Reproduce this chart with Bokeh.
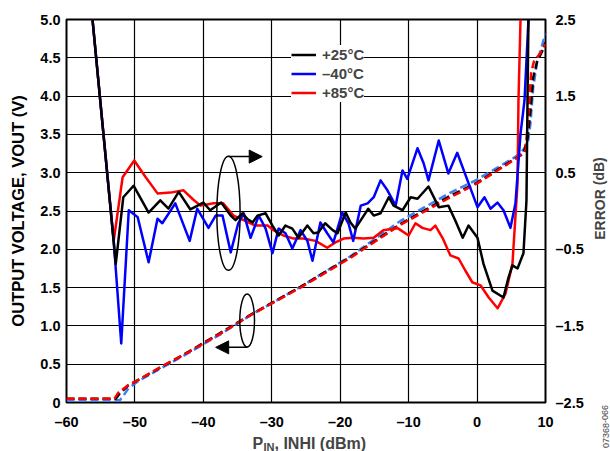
from bokeh.plotting import figure
from bokeh.layouts import row, column
from bokeh.models import (Range1d, LinearAxis, FixedTicker, Label, Arrow, NormalHead,
                          Legend, LegendItem)
from bokeh.embed import file_html
from bokeh.resources import INLINE

FONT = "Liberation Sans"

# ---------------- data ----------------
x_ticks = [-60, -50, -40, -30, -20, -10, 0, 10]
x_tick_labels = ["\u201360", "\u201350", "\u201340", "\u201330", "\u201320", "\u201310", "0", "10"]
v_ticks = [0, 0.5, 1.0, 1.5, 2.0, 2.5, 3.0, 3.5, 4.0, 4.5, 5.0]
v_tick_labels = ["0", "0.5", "1.0", "1.5", "2.0", "2.5", "3.0", "3.5", "4.0", "4.5", "5.0"]
err_ticks = [-2.5, -1.5, -0.5, 0.5, 1.5, 2.5]
err_tick_labels = ["\u20132.5", "\u20131.5", "\u20130.5", "0.5", "1.5", "2.5"]

# error curves (dB, right axis)
err25_x = [-56.2, -52.8, -51.7, -50.2, -48.0, -46.3, -45.1, -43.6, -41.9, -40.0, -39.0, -37.4, -36.0,
           -35.3, -34.3, -33.6, -32.8, -32.1, -30.9, -29.9, -29.0, -28.0, -27.0, -26.1, -24.8, -23.9,
           -23.2, -22.2, -21.1, -20.4, -19.2, -18.5, -17.8, -16.7, -15.9, -15.1, -14.1, -12.9, -12.2,
           -10.9, -9.7, -8.7, -7.1, -5.6, -4.2, -3.2, -2.1, -1.25, 0.06, 0.94, 2.25, 3.86, 4.59, 5.17,
           5.91, 6.78, 7.22, 7.37, 7.51]
err25_y = [2.50, -0.69, 0.18, 0.33, -0.02, 0.14, 0.03, 0.25, 0.02, 0.11, 0.01, 0.11, -0.06,
           -0.12, -0.03, -0.10, -0.15, -0.06, -0.03, -0.19, -0.32, -0.19, -0.23, -0.35, -0.19, -0.29,
           -0.28, -0.16, -0.25, -0.29, -0.02, -0.15, -0.23, -0.08, 0.03, -0.06, -0.03, 0.18, 0.07,
           0.01, 0.18, 0.16, 0.32, 0.05, 0.07, -0.12, -0.35, -0.19, -0.35, -0.69, -1.04, -1.13, -0.87,
           -0.71, -0.75, -0.55, 0.14, 1.44, 2.50]

errm40_x = [-56.2, -53.1, -52.0, -50.9, -49.6, -48.0, -46.7, -46.0, -44.1, -42.0, -40.9, -39.25,
            -38.2, -37.2, -36.0, -34.9, -34.1, -33.1, -31.9, -30.9, -29.9, -29.0, -28.0, -27.0, -25.8,
            -24.8, -24.05, -22.9, -21.9, -21.0, -19.7, -18.8, -18.1, -17.0, -16.0, -15.1, -14.1,
            -13.1, -11.9, -10.9, -10.2, -8.7, -7.8, -7.1, -5.6, -4.2, -2.9, -1.4, 0.06, 1.08, 1.96,
            2.98, 3.86, 4.88, 5.61, 6.35, 6.93, 7.51]
errm40_y = [2.50, -0.39, -1.73, 0.01, -0.08, -0.67, -0.10, -0.16, 0.10, -0.39, 0.03, -0.22,
            -0.06, -0.06, -0.54, -0.16, -0.03, -0.35, -0.06, -0.23, -0.55, -0.23, -0.29, -0.49, -0.25,
            -0.39, -0.65, -0.15, -0.29, -0.41, -0.02, -0.16, -0.39, 0.07, 0.10, 0.18, 0.40,
            0.27, 0.07, 0.53, 0.42, 0.82, 0.62, 0.40, 0.92, 0.49, 0.76, 0.40, 0.05, 0.18, 0.03,
            0.11, 0.01, -0.22, 0.10, 1.01, 1.44, 2.50]

err85_x = [-56.2, -53.1, -51.8, -50.1, -48.5, -46.7, -44.8, -42.9, -41.5, -40.4, -38.5, -37.1,
           -35.6, -34.1, -32.4, -30.6, -29.75, -28.3, -26.8, -25.4, -23.6, -21.9, -20.7, -19.5,
           -18.1, -16.6, -15.1, -13.7, -12.2, -11.5, -10.0, -9.0, -8.0, -6.8, -6.1, -5.05, -3.9,
           -2.7, -1.7, -0.7, 0.5, 1.7, 3.0, 4.15, 5.17, 5.91, 6.05, 6.35]
err85_y = [2.50, -0.39, 0.44, 0.66, 0.45, 0.23, 0.24, 0.27, 0.15, 0.07, 0.10, 0.10,
           -0.06, -0.12, -0.19, -0.19, -0.25, -0.32, -0.36, -0.36, -0.39, -0.48, -0.41, -0.36,
           -0.35, -0.36, -0.35, -0.25, -0.23, -0.23, -0.32, -0.16, -0.22, -0.25, -0.19, -0.35, -0.58,
           -0.62, -0.78, -0.93, -0.97, -1.13, -1.27, -1.08, -0.69, 0.36, 1.44, 2.50]

# output voltage curves (V, left axis)
v25_x = [-60, -52.8, -52.2, -51.0, -49.0, -46.0, -42.0, -37.5, -33.0, -25.8, -18.5, -11.2, -4.3,
         0.0, 5.3, 6.8, 7.4, 7.8, 8.2, 8.8, 9.6, 10.0]
v25_y = [0.05, 0.05, 0.12, 0.22, 0.32, 0.47, 0.67, 0.91, 1.15, 1.51, 1.90, 2.33, 2.68,
         2.87, 3.17, 3.25, 3.46, 3.81, 4.24, 4.46, 4.60, 4.70]
vm40_x = [-60, -52.2, -51.6, -51.0, -49.5, -46.3, -42.3, -37.5, -33.1, -25.8, -18.5, -11.2, -4.3,
          0.0, 5.3, 6.4, 7.4, 7.8, 8.2, 8.8, 9.3, 10.0]
vm40_y = [0.03, 0.03, 0.10, 0.18, 0.28, 0.44, 0.64, 0.89, 1.14, 1.51, 1.91, 2.37, 2.72,
          2.91, 3.19, 3.26, 3.38, 3.64, 4.11, 4.46, 4.60, 4.82]
v85_x = [-60, -53.0, -52.4, -51.1, -49.2, -46.3, -42.3, -37.5, -33.1, -25.8, -18.5, -11.2, -4.3,
         0.0, 5.3, 6.1, 7.1, 7.5, 7.9, 8.3, 9.3, 10.0]
v85_y = [0.05, 0.05, 0.13, 0.22, 0.31, 0.46, 0.65, 0.90, 1.14, 1.50, 1.89, 2.32, 2.66,
         2.86, 3.16, 3.21, 3.29, 3.75, 4.30, 4.45, 4.57, 4.68]

legend_labels = ["+25\u00b0C", "\u201340\u00b0C", "+85\u00b0C"]
x_title = ["P", "IN", ", INHI (dBm)"]
y2_title = "ERROR (dB)"
fig_number = "07368-066"

# ---------------- main figure ----------------
p = figure(width=588, height=433, output_backend="svg", toolbar_location=None,
           x_range=Range1d(-60, 10), y_range=Range1d(0, 5),
           min_border_left=66, min_border_right=43, min_border_top=19, min_border_bottom=31)
p.extra_y_ranges = {"err": Range1d(-2.5, 2.5)}
p.outline_line_color = "black"
p.outline_line_width = 2
p.background_fill_color = "white"
p.border_fill_color = "white"

p.xgrid.ticker = FixedTicker(ticks=x_ticks)
p.ygrid.ticker = FixedTicker(ticks=v_ticks)
for g in (p.xgrid, p.ygrid):
    g.grid_line_color = "black"
    g.grid_line_width = 1.2

xa = p.xaxis[0]
xa.ticker = FixedTicker(ticks=x_ticks)
xa.major_label_overrides = dict(zip(x_ticks, x_tick_labels))
xa.major_label_standoff = 11

ya = p.yaxis[0]
ya.ticker = FixedTicker(ticks=v_ticks)
ya.major_label_overrides = dict(zip(v_ticks, v_tick_labels))
ya.major_label_standoff = 6
ya.axis_label = "OUTPUT VOLTAGE, VOUT (V)"
ya.axis_label_standoff = 10
ya.axis_label_text_font = FONT
ya.axis_label_text_font_style = "bold"
ya.axis_label_text_font_size = "16.5px"
ya.axis_label_text_color = "black"

ra = LinearAxis(y_range_name="err", ticker=FixedTicker(ticks=err_ticks))
ra.major_label_overrides = dict(zip(err_ticks, err_tick_labels))
ra.major_label_standoff = 10
p.add_layout(ra, "right")

for ax in (xa, ya, ra):
    ax.axis_line_color = None
    ax.major_tick_in = 0
    ax.major_tick_out = 0
    ax.minor_tick_line_color = None
    ax.major_label_text_font = FONT
    ax.major_label_text_font_style = "bold"
    ax.major_label_text_font_size = "14.5px"
    ax.major_label_text_color = "black"

# dashed output voltage curves
dash = "8 4"
p.line(vm40_x, vm40_y, line_color="#3f7ff5", line_width=2.5, line_dash=dash)
p.line(v25_x, v25_y, line_color="black", line_width=2.5, line_dash=dash)
p.line(v85_x, v85_y, line_color="#ff0000", line_width=2.5, line_dash=dash)

# solid error curves
r85 = p.line(err85_x, err85_y, y_range_name="err", line_color="#ff0000", line_width=2.5, line_join="round")
rm40 = p.line(errm40_x, errm40_y, y_range_name="err", line_color="#0000ff", line_width=2.5, line_join="round")
r25 = p.line(err25_x, err25_y, y_range_name="err", line_color="black", line_width=2.5, line_join="round")

legend = Legend(items=[LegendItem(label=legend_labels[0], renderers=[r25]),
                       LegendItem(label=legend_labels[1], renderers=[rm40]),
                       LegendItem(label=legend_labels[2], renderers=[r85])],
                location=(225, 300))
legend.border_line_color = None
legend.background_fill_color = "white"
legend.background_fill_alpha = 1.0
legend.padding = 8
legend.margin = 0
legend.spacing = 0
legend.label_height = 19
legend.glyph_height = 19
legend.glyph_width = 25
legend.label_standoff = 6
legend.label_text_font = FONT
legend.label_text_font_style = "bold"
legend.label_text_font_size = "15px"
p.add_layout(legend)

# annotation ellipses and arrows
ell_x = [-36.33, -33.6]
ell_y = [2.47, 1.07]
ell_w = [3.4, 2.15]
ell_h = [1.49, 0.69]
p.ellipse(x=ell_x, y=ell_y, width=ell_w, height=ell_h, fill_color=None,
          line_color="black", line_width=1.5)
p.add_layout(Arrow(end=NormalHead(size=13, fill_color="black", line_color="black"),
                   x_start=-36.33, y_start=3.21, x_end=-31.4, y_end=3.21,
                   line_color="black", line_width=1.5))
p.add_layout(Arrow(end=NormalHead(size=13, fill_color="black", line_color="black"),
                   x_start=-33.55, y_start=0.72, x_end=-38.2, y_end=0.72,
                   line_color="black", line_width=1.5))


def blank(w, h, x0=0, x1=None):
    f = figure(width=w, height=h, output_backend="svg", toolbar_location=None, title=None,
               x_range=Range1d(x0, w if x1 is None else x1), y_range=Range1d(0, h), min_border=0,
               x_axis_location=None, y_axis_location=None)
    f.grid.visible = False
    f.outline_line_color = None
    f.background_fill_color = "white"
    f.border_fill_color = "white"
    return f


# x-axis title strip (its frame lines up with the main frame: page px 66..545)
bot = blank(588, 18, 66, 545)
bot.add_layout(Label(x=252, y=8.5, text=x_title[0], text_font=FONT, text_font_style="bold",
                     text_font_size="16px", text_baseline="middle", text_align="left"))
bot.add_layout(Label(x=263, y=5, text=x_title[1], text_font=FONT, text_font_style="bold",
                     text_font_size="11px", text_baseline="middle", text_align="left"))
bot.add_layout(Label(x=274, y=8.5, text=x_title[2], text_font=FONT, text_font_style="bold",
                     text_font_size="16px", text_baseline="middle", text_align="left"))

# right strip: secondary axis title and figure number
side = blank(22, 451)
side.add_layout(Label(x=11, y=253, text=y2_title, angle=1.5708, text_font=FONT,
                      text_font_style="bold", text_font_size="14px", text_baseline="middle",
                      text_align="center"))
side.add_layout(Label(x=17, y=25, text=fig_number, angle=1.5708, text_font=FONT,
                      text_font_size="9px", text_color="#444444", text_baseline="middle",
                      text_align="center"))

layout = row(column(p, bot), side)

html = file_html(layout, INLINE)
html = html.replace("</head>",
                    "<style>html,body{margin:0 !important;padding:0 !important;overflow:hidden;}</style></head>", 1)
open("out.html", "w").write(html)
